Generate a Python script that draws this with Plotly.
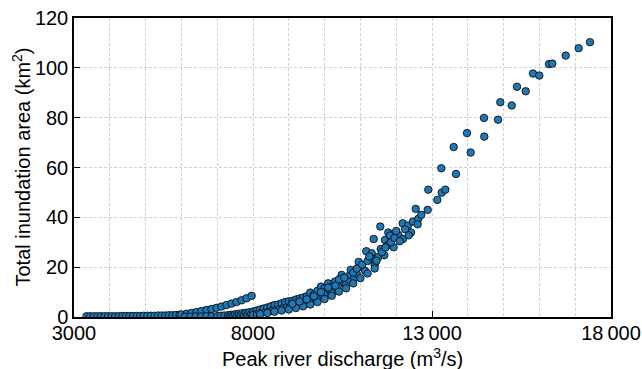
import plotly.graph_objects as go

# Low-discharge flat row (area ~0)
flat_q = [3350, 3450, 3550, 3650, 3750, 3850, 3950, 4050, 4150, 4250, 4350, 4450, 4550,
          4650, 4750, 4850, 4950, 5050, 5150, 5250, 5350, 5450, 5550, 5650, 5750, 5850, 5950]
flat_a = [0.3, 0.3, 0.3, 0.3, 0.3, 0.3, 0.3, 0.3, 0.3, 0.3, 0.4, 0.4, 0.4,
          0.4, 0.4, 0.4, 0.5, 0.5, 0.5, 0.5, 0.6, 0.6, 0.6, 0.7, 0.7, 0.8, 0.9]

# Upper low branch (6000-8000)
branch_q = [6000, 6140, 6280, 6420, 6560, 6700, 6840, 6980, 7120, 7260, 7400, 7540, 7680, 7820, 7963]
branch_a = [1.0, 1.3, 1.6, 2.0, 2.4, 2.8, 3.2, 3.7, 4.2, 4.8, 5.4, 6.0, 6.7, 7.5, 8.5]

# Main cluster
main_q = [6100, 6250, 6400, 6550, 6700, 6850, 7000, 7100, 7200, 7300, 7350, 7400, 7450, 7500,
          7550, 7600, 7650, 7700, 7750, 7800, 7850, 7900, 7950, 8000, 8050, 8100, 8150, 8200,
          8250, 8300, 8350, 8400, 8450, 8500, 8550, 8600, 8650, 8700, 8750, 8800, 8850, 8900,
          8950, 9000, 9050, 9100, 9150, 9200, 9250, 9300, 9350, 9400, 9450, 9500, 9550, 9600,
          9650, 9700, 9750, 9800, 9850, 9900, 9950, 10000, 10050, 10100, 10150, 10200, 10243,
          10198, 10291, 10383, 10477, 10522, 10600, 10662, 10709, 10729, 10829, 10897, 10952,
          11036, 11128, 11165, 11316, 11343, 11371, 11399, 11500, 11556, 11567, 11668, 11687,
          11760, 11779, 11827, 11928, 12059, 12181, 12190, 12330, 12413, 12469, 12545, 12617,
          12880, 12897, 13148, 13271, 13372, 13260, 13670, 13606, 14081, 13978, 14461, 14453,
          14844, 14908, 15226, 15374, 15617, 15821, 15997, 16268, 16360, 16734, 17097, 17413,
          8000, 8200, 8400, 8600, 8800, 9000, 9200, 9400, 9600, 9800, 10000, 10200, 10400,
          10600, 10800, 11000, 11200, 11400, 9100, 9300, 9500, 9700, 9900, 10100, 10300, 10400,
          10550, 10800, 10900, 11050, 11200, 11250, 11450, 11600, 11700, 11850, 11950, 12000,
          12100, 12250, 12350, 12600, 12700]
main_a = [0.1, 0.1, 0.2, 0.2, 0.3, 0.3, 0.4, 0.5, 0.6, 0.7, 0.3, 0.9, 0.5, 1.1,
          0.6, 1.3, 0.8, 1.5, 0.9, 1.7, 1.1, 1.9, 1.2, 2.2, 1.4, 2.6, 1.5, 3.0,
          1.8, 3.4, 2.0, 3.8, 2.3, 4.3, 2.6, 4.8, 3.0, 5.0, 3.3, 5.5, 3.6, 6.0,
          3.9, 6.3, 4.2, 6.5, 4.6, 7.0, 5.0, 7.4, 5.4, 7.8, 5.9, 8.3, 6.4, 9.8,
          7.0, 9.0, 7.6, 10.5, 8.2, 12.2, 9.0, 11.5, 9.8, 13.5, 10.6, 12.2, 10.8,
          9.5, 14.2, 12.9, 16.9, 14.2, 13.0, 15.1, 16.9, 18.9, 15.9, 17.3, 22.1,
          20.2, 18.6, 26.4, 25.6, 23.2, 31.3, 20.9, 24.1, 36.3, 27.3, 24.8, 30.9,
          28.8, 33.9, 32.7, 28.0, 32.9, 37.6, 31.3, 36.7, 33.9, 38.3, 43.4, 39.4,
          43.0, 51.1, 47.0, 49.9, 51.1, 59.7, 57.4, 68.2, 66.0, 73.8, 72.4, 79.9,
          79.2, 86.2, 84.9, 92.4, 90.6, 97.7, 96.9, 101.5, 101.7, 104.9, 107.9, 110.3,
          0.8, 1.2, 1.6, 2.1, 2.6, 3.0, 3.6, 4.3, 5.0, 6.0, 7.2, 8.5, 10.2,
          11.5, 13.5, 15.6, 17.5, 19.5, 5.3, 6.2, 7.1, 8.3, 10.0, 11.8, 12.6, 15.1,
          15.8, 17.8, 19.4, 21.0, 22.5, 24.3, 22.6, 26.0, 27.9, 30.0, 31.7, 34.5,
          30.4, 35.2, 32.8, 37.2, 41.0]

x_tickvals = [3000, 8000, 13000, 18000]
x_ticktext = ["3000", "8000", "13\u2009000", "18\u2009000"]
y_tickvals = [0, 20, 40, 60, 80, 100, 120]
x_title = "Peak river discharge (m<sup>3</sup>/s)"
y_title = "Total inundation area (km<sup>2</sup>)"

all_q = flat_q + branch_q + main_q
all_a = flat_a + branch_a + main_a

fig = go.Figure()
fig.add_trace(go.Scatter(
    x=all_q, y=all_a, mode="markers",
    marker=dict(size=7.5, color="#1f77b4", line=dict(color="black", width=0.8)),
    showlegend=False,
))

font = dict(family="Liberation Sans, Arial, sans-serif", size=20, color="black")
gcol = "#d0d0d0"
gdash = "3px,2px"

fig.update_layout(
    width=642, height=369,
    margin=dict(l=74, r=31, t=18, b=52),
    paper_bgcolor="white", plot_bgcolor="white",
    font=font,
    xaxis=dict(range=[3000, 18000], tickvals=x_tickvals, ticktext=x_ticktext,
               ticks="inside", ticklen=6, tickcolor="black", tickwidth=1.2,
               ticklabelstandoff=-3,
               showline=True, linecolor="black", linewidth=1.5, mirror=True,
               zeroline=False, automargin=False,
               showgrid=True, gridcolor=gcol, griddash=gdash, gridwidth=1,
               minor=dict(dtick=1000, tick0=3000, showgrid=True, gridcolor=gcol,
                          griddash=gdash, gridwidth=1)),
    yaxis=dict(range=[0, 120], tickvals=y_tickvals,
               ticks="inside", ticklen=6, tickcolor="black", tickwidth=1.2,
               showline=True, linecolor="black", linewidth=1.5, mirror=True,
               zeroline=False, automargin=False,
               showgrid=True, gridcolor=gcol, griddash=gdash, gridwidth=1),
    annotations=[
        dict(text=x_title, xref="paper", yref="paper", x=0.5, y=0, yshift=-40,
             xanchor="center", yanchor="middle", showarrow=False, font=font),
        dict(text=y_title, xref="paper", yref="paper", x=0, y=0.5, xshift=-53,
             xanchor="center", yanchor="middle", showarrow=False, textangle=-90, font=font),
    ],
)

fig.write_html("out.html", post_script="document.body.style.margin='0';",
               config={"displayModeBar": False})
